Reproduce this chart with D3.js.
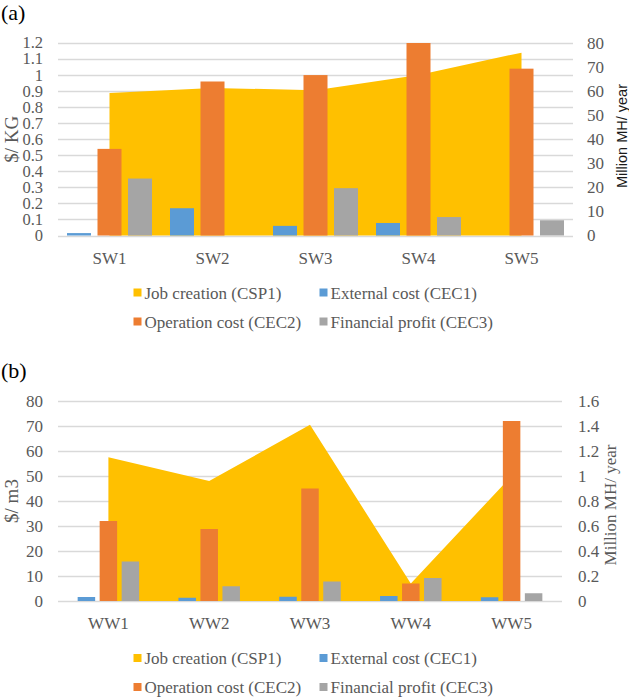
<!DOCTYPE html>
<html>
<head>
<meta charset="utf-8">
<script src="https://cdn.jsdelivr.net/npm/d3@7/dist/d3.min.js"></script>
<style>
  html, body { margin: 0; padding: 0; background: #fff; }
  svg { display: block; }
  .serif { font-family: "Liberation Serif", "Times New Roman", serif; }
  .sans { font-family: "Liberation Sans", Arial, sans-serif; }
</style>
</head>
<body>
<svg id="chart" width="629" height="697"></svg>
<script>
// ---------- DATA ----------
const seriesNames = ["Job creation (CSP1)", "External cost (CEC1)", "Operation cost (CEC2)", "Financial profit (CEC3)"];

// Panel (a)
const catsA = ["SW1", "SW2", "SW3", "SW4", "SW5"];
const jobA  = [59.2, 61.3, 60.4, 66.7, 76];        // Million MH/ year (right axis)
const extA  = [0.015, 0.17, 0.06, 0.078, 0];       // $/ KG
const opA   = [0.54, 0.96, 1.0, 1.2, 1.04];
const finA  = [0.355, 0, 0.295, 0.115, 0.095];
const leftTicksA  = [0, 0.1, 0.2, 0.3, 0.4, 0.5, 0.6, 0.7, 0.8, 0.9, 1, 1.1, 1.2];
const rightTicksA = [0, 10, 20, 30, 40, 50, 60, 70, 80];

// Panel (b)
const catsB = ["WW1", "WW2", "WW3", "WW4", "WW5"];
const jobB  = [1.15, 0.96, 1.41, 0.14, 1.0];       // Million MH/ year (right axis)
const extB  = [1.6, 1.3, 1.7, 2.0, 1.5];           // $/ m3
const opB   = [32, 28.8, 45, 7, 72];
const finB  = [15.8, 5.9, 7.8, 9.2, 3.1];
const leftTicksB  = [0, 10, 20, 30, 40, 50, 60, 70, 80];
const rightTicksB = [0, 0.2, 0.4, 0.6, 0.8, 1, 1.2, 1.4, 1.6];

// ---------- STYLE ----------
const colors = ["#FFC000", "#5B9BD5", "#ED7D31", "#A5A5A5"];
const tickColor = "#595959";
const gridColor = "#d9d9d9";
const fs = 17;

const svg = d3.select("#chart");

function fmt(v) { return String(+v.toFixed(2)); }

function panel(cfg) {
  const g = svg.append("g");
  const x = d3.scaleBand().domain(cfg.cats).range([cfg.x0, cfg.x1]).paddingInner(0).paddingOuter(0);
  const yL = d3.scaleLinear().domain([cfg.leftTicks[0], cfg.leftTicks[cfg.leftTicks.length - 1]]).range([cfg.yBase, cfg.yTop]);
  const yR = d3.scaleLinear().domain([cfg.rightTicks[0], cfg.rightTicks[cfg.rightTicks.length - 1]]).range([cfg.yBase, cfg.yTop]);

  // gridlines
  g.append("g").selectAll("line").data(cfg.leftTicks).join("line")
    .attr("x1", cfg.x0).attr("x2", cfg.x1)
    .attr("y1", d => Math.round(yL(d)) + 0.5).attr("y2", d => Math.round(yL(d)) + 0.5)
    .attr("stroke", gridColor).attr("stroke-width", 1.3);

  // area (secondary axis)
  const cx = d => x(d) + x.bandwidth() / 2;
  const area = d3.area()
    .x((d, i) => cx(cfg.cats[i]))
    .y0(yR(0))
    .y1(d => yR(d));
  g.append("path").datum(cfg.job).attr("d", area).attr("fill", colors[0]);

  // bars
  const bw = x.bandwidth() * cfg.barFrac;
  const step = x.bandwidth() * cfg.stepFrac;
  const barSeries = [cfg.ext, cfg.op, cfg.fin];
  barSeries.forEach((vals, si) => {
    g.append("g").selectAll("rect").data(vals).join("rect")
      .attr("x", (d, i) => cx(cfg.cats[i]) + (si - 1) * step - bw / 2)
      .attr("width", bw)
      .attr("y", d => yL(d))
      .attr("height", d => yL(0) - yL(d))
      .attr("fill", colors[si + 1]);
  });

  // left tick labels
  g.append("g").selectAll("text").data(cfg.leftTicks).join("text")
    .attr("class", "serif")
    .attr("x", cfg.x0 - 15).attr("y", d => yL(d)).attr("dy", "0.33em")
    .attr("text-anchor", "end")
    .attr("font-size", cfg.leftTickSize).attr("fill", tickColor)
    .text(fmt);

  // right tick labels
  g.append("g").selectAll("text").data(cfg.rightTicks).join("text")
    .attr("class", "serif")
    .attr("x", cfg.rightLabelX).attr("y", d => yR(d)).attr("dy", "0.33em")
    .attr("text-anchor", "start")
    .attr("font-size", fs).attr("fill", tickColor)
    .text(fmt);

  // category labels
  g.append("g").selectAll("text").data(cfg.cats).join("text")
    .attr("class", "serif")
    .attr("x", d => cx(d)).attr("y", cfg.yBase + 28)
    .attr("text-anchor", "middle")
    .attr("font-size", fs).attr("fill", tickColor)
    .text(d => d);

  // left axis title
  g.append("text")
    .attr("class", "serif")
    .attr("transform", `translate(${cfg.leftTitleX},${(cfg.yBase + cfg.yTop) / 2}) rotate(-90)`)
    .attr("text-anchor", "middle")
    .attr("font-size", 19).attr("fill", tickColor)
    .text(cfg.leftTitle);

  // right axis title
  g.append("text")
    .attr("class", cfg.rightTitleClass)
    .attr("transform", `translate(${cfg.rightTitleX},${cfg.rightTitleY}) rotate(-90)`)
    .attr("text-anchor", "middle")
    .attr("font-size", cfg.rightTitleSize).attr("fill", cfg.rightTitleColor)
    .text(cfg.rightTitle);

  // panel label
  g.append("text")
    .attr("class", "serif")
    .attr("x", 1).attr("y", cfg.labelY)
    .attr("font-size", 22).attr("fill", "#000")
    .text(cfg.label);

  // legend
  const legX = [133.5, 319.5];
  const legY = [cfg.yBase + 63, cfg.yBase + 92];
  [0, 1, 2, 3].forEach((si, k) => {
    const col = k % 2, row = Math.floor(k / 2);
    const lx = legX[col], ly = legY[row];
    g.append("rect").attr("x", lx).attr("y", ly - 10).attr("width", 8).attr("height", 8).attr("fill", colors[si]);
    g.append("text").attr("class", "serif").attr("x", lx + 11).attr("y", ly)
      .attr("font-size", fs).attr("fill", tickColor)
      .text(seriesNames[si]);
  });
}

panel({
  cats: catsA, job: jobA, ext: extA, op: opA, fin: finA,
  leftTicks: leftTicksA, rightTicks: rightTicksA, leftTickSize: 16.5,
  x0: 58, x1: 573, yTop: 43, yBase: 235.5,
  barFrac: 24 / 103, stepFrac: 30.5 / 103,
  rightLabelX: 587,
  leftTitle: "$/ KG", leftTitleX: 18,
  rightTitle: "Million MH/ year", rightTitleX: 627, rightTitleY: 136,
  rightTitleClass: "sans", rightTitleSize: 14.5, rightTitleColor: "#1a1a1a",
  label: "(a)", labelY: 20
});

panel({
  cats: catsB, job: jobB, ext: extB, op: opB, fin: finB,
  leftTicks: leftTicksB, rightTicks: rightTicksB, leftTickSize: 17,
  x0: 58, x1: 562, yTop: 401, yBase: 601,
  barFrac: 17.5 / 100.8, stepFrac: 22 / 100.8,
  rightLabelX: 578,
  leftTitle: "$/ m3", leftTitleX: 18,
  rightTitle: "Million MH/ year", rightTitleX: 616, rightTitleY: 505,
  rightTitleClass: "serif", rightTitleSize: 17, rightTitleColor: tickColor,
  label: "(b)", labelY: 378
});
</script>
</body>
</html>
